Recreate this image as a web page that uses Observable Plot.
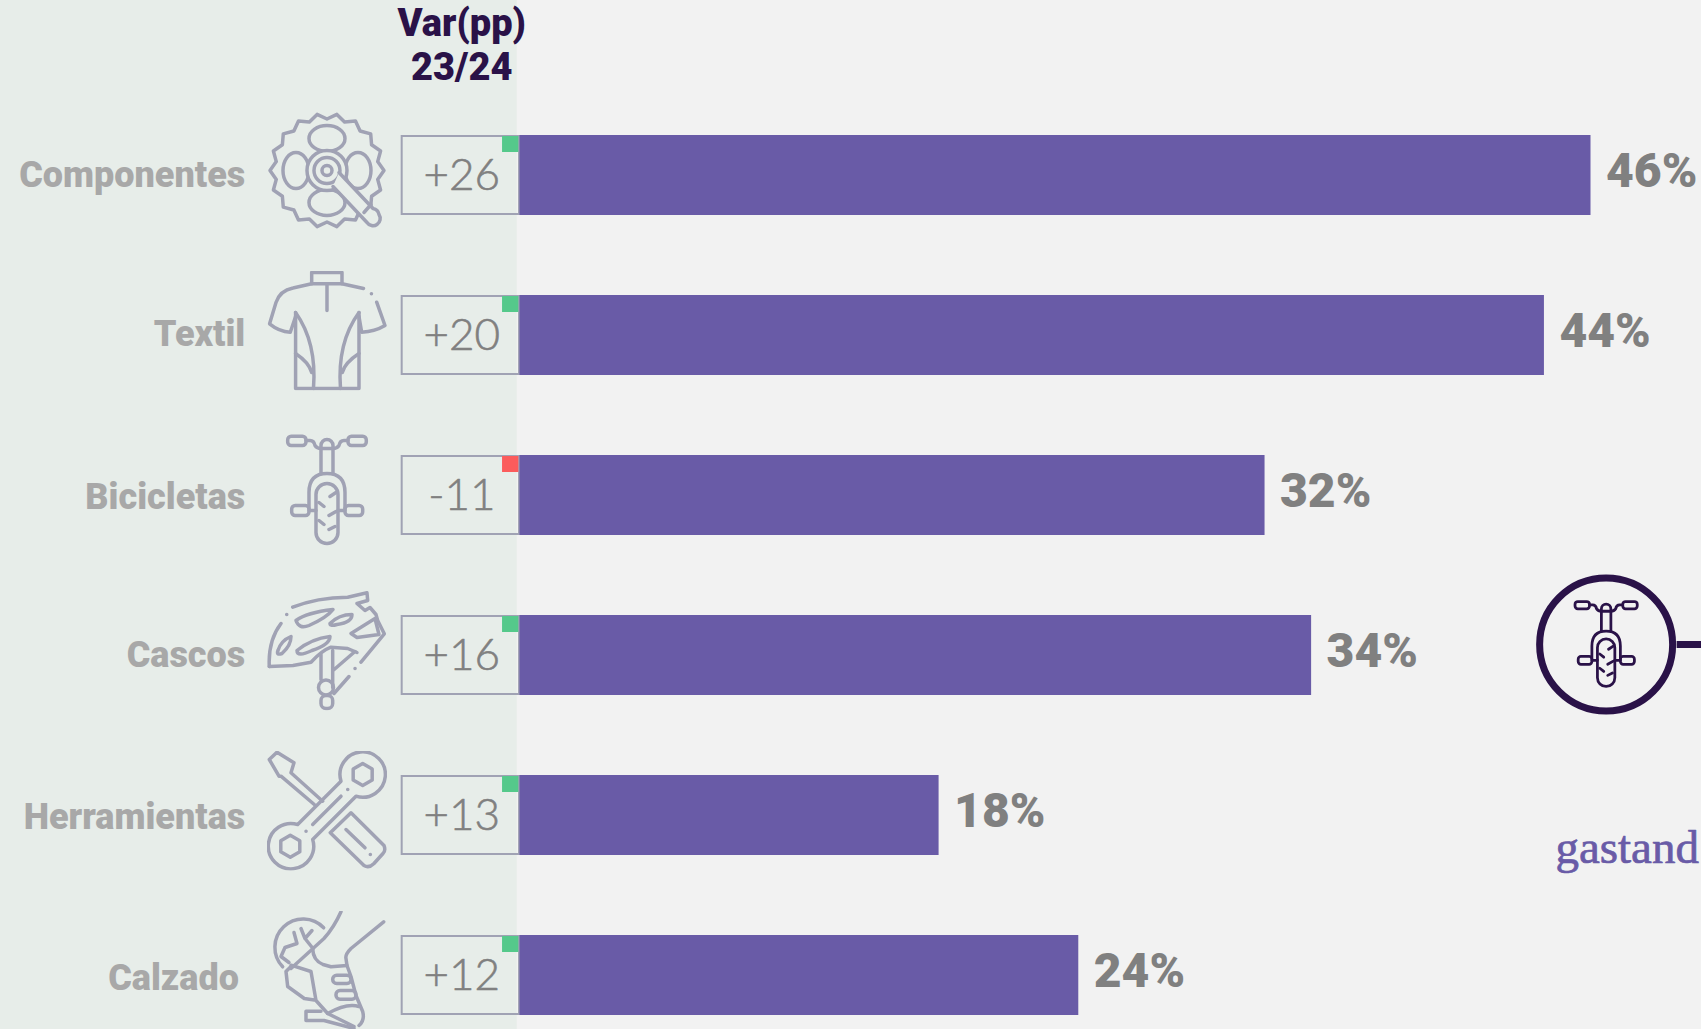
<!DOCTYPE html>
<html lang="es">
<head>
<meta charset="utf-8">
<script src="https://cdn.jsdelivr.net/npm/d3@7"></script>
<script src="https://cdn.jsdelivr.net/npm/@observablehq/plot@0.6"></script>
<style>
html,body{margin:0;padding:0;background:#f2f2f2;overflow:hidden;width:1701px;height:1029px}
svg{display:block}
</style>
</head>
<body>
<div id="chart"></div>
<script>
const categories = ["Componentes","Textil","Bicicletas","Cascos","Herramientas","Calzado"];
const shares = [46,44,32,34,18,24];
const changes = [26,20,-11,16,13,12];
const iconKeys = ["gear","jersey","bike","helmet","tools","shoe"];
const headerText = "Var(pp)\n23/24";
const calloutText = "gastand";

const ink="#2a1248", purple="#695ba7", grey="#808080", labelGrey="#a8a8a8", line="#a0a2b4", panel="#e7ede9", up="#55c98b", down="#fb5c5c";

const rows = categories.map((name,i)=>({name,share:shares[i],change:changes[i],icon:iconKeys[i]}));
const signed = v => (v>0?"+":"-")+Math.abs(v);

function gearPath(){
  const pts=[],n=18;
  for(let i=0;i<n*2;i++){
    const a=i*Math.PI/n, r=i%2?51.5:57;
    pts.push((60+r*Math.cos(a)).toFixed(1)+" "+(60+r*Math.sin(a)).toFixed(1));
  }
  return "M"+pts.join("L")+"Z";
}
const glyphs = {
  gear:`<path d="${gearPath()}" fill="#e7ede9"/>
    <ellipse cx="60" cy="28" rx="18" ry="13"/><ellipse cx="60" cy="92" rx="18" ry="13"/>
    <ellipse cx="29" cy="60" rx="13" ry="18"/><ellipse cx="91" cy="60" rx="13" ry="18"/>
    <circle cx="60" cy="60" r="20" fill="#e7ede9"/><circle cx="60" cy="60" r="13"/><circle cx="60" cy="60" r="5"/>
    <path d="M72 62L106 98A7.500 7.500 0 0 1 112 104A7 7 0 0 1 100 112L66 76" fill="#e7ede9"/><path d="M97 102L104 94"/>`,
  jersey:`<path d="M44.700 13.300V2H75V13.300H44.700M60 13.300V40"/>
    <path d="M44.700 13.300L26 17.500Q13 20 9 32L2.600 53.300Q12 61 23.300 61.700L28.600 46"/>
    <path d="M75 13.300L96.500 18M104.400 23.300h.1M109.700 31.700L118 55Q108 61 94.700 61.700L92 46"/>
    <path d="M28.600 42V118H92V42"/>
    <path d="M28.600 42Q50 72 46.500 118M28.600 83Q42 92 44.700 102"/>
    <path d="M92 42Q70 72 73.500 118M92 83Q78 92 75.300 102"/>`,
  bike:`<rect x="20.700" y="5.700" width="18.300" height="9.300" rx="3.500"/><rect x="81" y="5.700" width="18.300" height="9.300" rx="3.500"/>
    <path d="M39 10H43Q47 10 48 15Q50 18 54 18H66Q70 18 72 15Q73 10 77 10H81"/>
    <path d="M54 43V15A6 6 0 0 1 66 15V43"/>
    <path d="M42 78V62Q42 43 60 43Q78 43 78 62V78"/>
    <rect x="49" y="53" width="22" height="60" rx="11"/>
    <rect x="24.700" y="75" width="17.300" height="10" rx="3.500"/><rect x="78" y="75" width="17.700" height="10" rx="3.500"/>
    <path d="M42 80H49M71 80H78M63 66L69 62M62 85L69 81M52 72L57 76M52 90L57 94M62 99L68 96"/>`,
  helmet:`<path d="M2.300 76Q1 50 14 33M19.700 24h.1M25.700 16.700Q50 7 80.700 6.700L100 2.300L100.700 10L90 13L98 20L103 17L109 24L110.700 30L117.300 43.300L94 71.700M88 78h.1M82 86L67 103"/>
    <path d="M2.300 76L26 75L44 71.700Q55 60 64 56.700L80.700 58L90 62"/>
    <path d="M29 30Q40 22 66 19Q60 27 42 35Q32 39 29 30Z"/><path d="M63 33Q72 24 85 24Q85 32 70 34Q63 36 63 33Z"/>
    <path d="M11 60Q14 50 24 46Q24 55 15 63Q9 65 11 60Z"/><path d="M30 60Q45 48 63 46Q63 54 45 60Q30 67 30 60Z"/>
    <path d="M84 43L108 28L112 44L90 47Z"/>
    <path d="M54 64V89M65.700 60V97M66 80L88 61"/>
    <circle cx="59" cy="97" r="7.500"/><rect x="54" y="105" width="11.700" height="13" rx="5"/>`,
  tools:`<path d="M74 30.700L30.700 74A22.700 22.700 0 1 0 45.700 89L89 45.700A22.700 22.700 0 1 0 74 30.700Z"/>
    <path d="M95.700 13L105.200 18.500V29.500L95.700 35L86.200 29.500V18.500Z"/><path d="M23.300 84.700L32.800 90.200V101.200L23.300 106.700L13.800 101.200V90.200Z"/>
    <path d="M74 45.700L45.700 74M80.700 39h.1M39 80.700h.1"/>
    <path d="M55.700 50.700L24 22.300L27 12.300L10 1.700L2.300 9L12 25.700L14 25.700L47.300 54"/>
    <path d="M63.300 82.300L84 62.300L117 95Q119 100 116 103L107 113Q102 118 97 115L63.300 82.300Z"/>
    <path d="M79 79L98 97.300M103.300 104h.1"/>`,
  shoe:`<path d="M56.700 17.300A28 28 0 1 0 15.700 56.300"/>
    <path d="M34 18L38 28L45 20M18 37L30 33L27 22M18 37L14 46L22 52M38 28L46 38"/>
    <path d="M74 1.300Q67 17 57 28L24 58M116.700 11.300L84 38Q78 44 79 48L80 55L84 66L89 85L95.700 101Q98 110 92 115"/>
    <path d="M45.700 38Q46 50 56 54L64 56.300L80 55"/>
    <path d="M24 56L19 61L20.700 76L37.300 88L49 89.700M24 54.700L44 61L49 90L60.700 103L87 116"/>
    <rect x="65.700" y="64.700" width="18.300" height="8.300" rx="4"/><rect x="69" y="80" width="20" height="8.700" rx="4"/>
    <path d="M54 100.700H39V110H57L87 118M60.700 103Q80 92 92 96"/>`
};
const iconSrc = (key,color) => "data:image/svg+xml;charset=utf-8," + encodeURIComponent(
  `<svg xmlns="http://www.w3.org/2000/svg" viewBox="0 0 120 120" width="120" height="120"><g fill="none" stroke="${color}" stroke-width="3.500" stroke-linecap="round" stroke-linejoin="round">${glyphs[key]}</g></svg>`);

const bold = "Roboto, sans-serif";
const labelMark = (name,dy) => Plot.text(rows.filter(d=>d.name===name),{x:name==="Calzado"?-12.07:-11.8,y:"name",dy,text:"name",textAnchor:"end",fill:labelGrey,fontFamily:bold,fontWeight:900,fontSize:36});
const plot = Plot.plot({
  width:1701, height:1029, margin:0,
  style:{background:"#f2f2f2",overflow:"hidden"},
  x:{domain:[0,46],range:[519.5,1590.5],axis:null},
  y:{domain:categories,range:[135,1015],paddingInner:.5,paddingOuter:0,round:false,axis:null},
  marks:[
    Plot.rect([0],{x1:-22.33,x2:-0.12,fill:panel}),
    Plot.barX(rows,{x1:-5.06,x2:-0.02,y:"name",fill:"none",stroke:line,strokeWidth:2,insetTop:1,insetBottom:1}),
    Plot.barX(rows,{x1:-0.75,x2:-0.05,y:"name",fill:d=>d.change>0?up:down,insetTop:1,insetBottom:63}),
    Plot.barX(rows,{x:"share",y:"name",fill:purple}),
    labelMark("Componentes",0),labelMark("Textil",-1),labelMark("Bicicletas",2),labelMark("Cascos",0),labelMark("Herramientas",2),labelMark("Calzado",3),
    Plot.text(rows,{x:-2.5,y:"name",text:d=>signed(d.change),fill:grey,stroke:grey,strokeWidth:.6,fontFamily:"Lato, sans-serif",fontWeight:300,fontSize:44}),
    Plot.text(rows,{x:"share",y:"name",text:d=>d.share+"%",dx:15,dy:-4,textAnchor:"start",fill:grey,fontFamily:bold,fontWeight:900,fontSize:48}),
    Plot.image(rows,{x:-8.29,y:"name",dy:-5,width:120,height:120,src:d=>iconSrc(d.icon,line)}),
    Plot.text([headerText],{x:-2.5,frameAnchor:"top",dy:5,lineAnchor:"top",lineHeight:1.14,fill:ink,fontFamily:bold,fontWeight:900,fontSize:38}),
    Plot.dot(["Cascos"],{x:46.65,y:d=>d,dy:-11,r:66.5,stroke:ink,strokeWidth:7,fill:"none"}),
    Plot.ruleY(["Cascos"],{x1:49.7,x2:50.8,y:d=>d,dy:-11,stroke:ink,strokeWidth:7}),
    Plot.image(["bike"],{x:46.65,y:()=>"Cascos",dy:-11,width:95,height:95,src:d=>iconSrc(d,ink)}),
    Plot.text([calloutText],{x:44.47,y:()=>"Herramientas",dy:32,textAnchor:"start",fill:purple,stroke:purple,strokeWidth:.7,fontFamily:"'Liberation Serif', serif",fontSize:47})
  ]
});
document.getElementById("chart").append(plot);
</script>
</body>
</html>
